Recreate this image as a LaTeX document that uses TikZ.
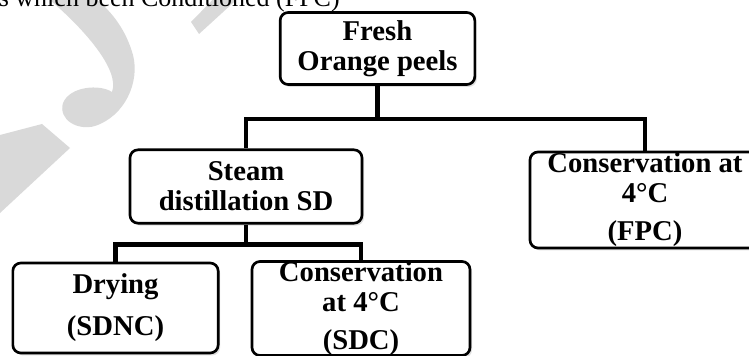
\documentclass[tikz,border=0pt]{standalone}
\usepackage{fontspec}
\setmainfont{Liberation Serif}
\usetikzlibrary{shadows}
\tikzset{
  stage/.style = {rectangle, rounded corners=6pt, draw=black, line width=2pt, fill=white,
                  inner sep=0pt, align=center, font=\bfseries\fontsize{21.5}{22.5}\selectfont,
                  drop shadow={shadow xshift=1.5pt, shadow yshift=-1.8pt, opacity=0.25}},
  link/.style  = {line width=3.2pt},
  caption/.style = {inner sep=0pt, font=\fontsize{19.5}{21}\selectfont},
  wmark/.style = {fill=black!15, draw=none},
}

\begin{document}
\begin{tikzpicture}[x=0.75pt, y=-0.75pt]
  \useasboundingbox (0,0) rectangle (749,356);

  % ---- watermark ----
  \fill[wmark] (50,0) .. controls (85,30) and (120,70) .. (112,92)
     .. controls (100,84) and (70,86) .. (63,103)
     .. controls (58,120) and (78,131) .. (95,126)
     .. controls (125,116) and (140,82) .. (133,55)
     .. controls (126,30) and (112,12) .. (97,0) -- cycle;
  \fill[wmark] (0,135) -- (42,124) -- (70,148) -- (0,213) -- cycle;
  \fill[wmark] (191,22) -- (199,34) -- (245,-8) -- (230,-18) -- cycle;

  % ---- caption line (cut by the top edge) ----
  \node[caption, anchor=base east] (cap) at (340,7) {s which been Conditioned (FPC)};

  % ---- stages ----
  \node[stage, minimum width=146pt, minimum height=54pt]   (fresh)  at (377.5,48.5) {Fresh\\Orange peels};
  \node[stage, minimum width=174pt, minimum height=55pt]   (steam)  at (246,186.5)  {Steam\\distillation SD};
  \node[stage, minimum width=172.5pt, minimum height=72pt] (fpc)    at (645,200)    {Conservation at\\4°C\\[6pt](FPC)};
  \node[stage, minimum width=154pt, minimum height=67.5pt] (drying) at (115.5,308)  {Drying\\[9pt](SDNC)};
  \node[stage, minimum width=163.5pt, minimum height=68pt] (sdc)    at (361,308.5)  {Conservation\\at 4°C\\[6pt](SDC)};

  % ---- branches ----
  \draw[link] (fresh.south) -- ++(0,33) -| (steam.north);
  \draw[link] (fresh.south) ++(0,33) -| (fpc.north);
  \draw[link] (steam.south) -- ++(0,20) -| (drying.north);
  \draw[link] (steam.south) ++(0,20) -| (sdc.north);
\end{tikzpicture}
\end{document}
